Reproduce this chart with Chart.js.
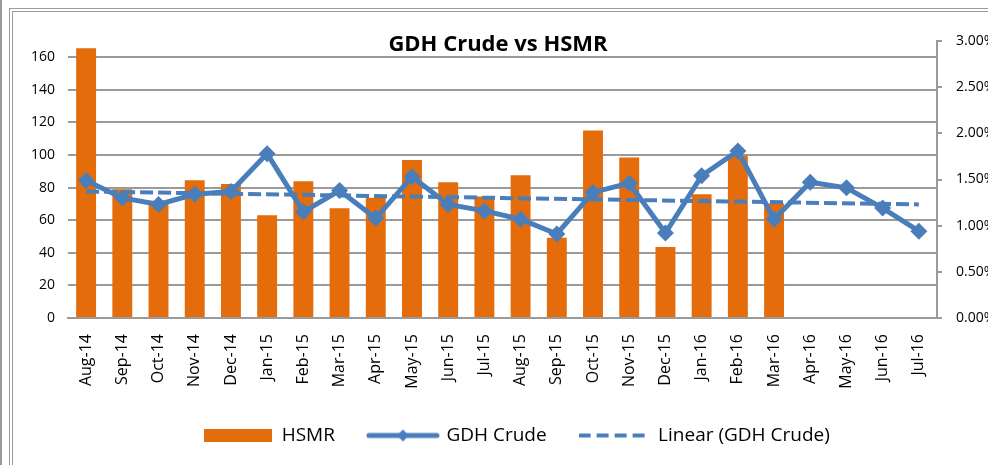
<!DOCTYPE html>
<html>
<head>
<meta charset="utf-8">
<script src="https://cdn.jsdelivr.net/npm/chart.js@4.4.1/dist/chart.umd.min.js"></script>
<style>
  html, body { margin: 0; padding: 0; background: #fff; }
  #wrap { position: relative; width: 988px; height: 465px; overflow: hidden; }
  #chart { position: absolute; left: 0; top: 0; }
  .frame-outer { position: absolute; left: 0; top: 0; width: 2px; height: 465px; background: #9a9a9a; }
  .frame { position: absolute; left: 9px; top: 8px; right: -10px; bottom: -10px;
           border-left: 4px double #9a9a9a; border-top: 4px double #9a9a9a; }
</style>
</head>
<body>
<div id="wrap">
  <div class="frame-outer"></div>
  <div class="frame"></div>
  <canvas id="chart" width="988" height="465"></canvas>
</div>
<script>
// Chart data
const months = ["Aug-14", "Sep-14", "Oct-14", "Nov-14", "Dec-14", "Jan-15", "Feb-15", "Mar-15",
                "Apr-15", "May-15", "Jun-15", "Jul-15", "Aug-15", "Sep-15", "Oct-15", "Nov-15",
                "Dec-15", "Jan-16", "Feb-16", "Mar-16", "Apr-16", "May-16", "Jun-16", "Jul-16"];

const hsmr = [165.5, 79, 72, 84.5, 82.3, 63, 84, 67.3, 73.8, 96.9, 83.3, 74.5,
              87.6, 49.2, 115.1, 98.5, 43.5, 75.9, 99.5, 70.2, null, null, null, null];

// GDH crude rate, in percent
const gdhCrude = [1.49, 1.30, 1.23, 1.34, 1.37, 1.78, 1.15, 1.38, 1.08, 1.53, 1.23, 1.16,
                  1.07, 0.91, 1.36, 1.46, 0.92, 1.54, 1.81, 1.07, 1.47, 1.41, 1.19, 0.94];

// linear trendline end points (first and last month)
const gdhTrend = [1.37, null, null, null, null, null, null, null, null, null, null, null,
                  null, null, null, null, null, null, null, null, null, null, null, 1.23];

const leftTicks = [0, 20, 40, 60, 80, 100, 120, 140, 160];
const rightTicks = [0, 0.5, 1, 1.5, 2, 2.5, 3];

const ORANGE = "#E46C0A";
const BLUE = "#4A7EBB";
const GRID = "#9a9a9a";
const FONT = "'Open Sans', 'Liberation Sans', sans-serif";

// small pictures for the legend keys
function makeKey(kind) {
    const c = document.createElement("canvas");
    const g = c.getContext("2d");
    if (kind === "bar") {
        c.width = 68; c.height = 13;
        g.fillStyle = ORANGE;
        g.fillRect(0, 0, 68, 13);
    } else if (kind === "line") {
        c.width = 74; c.height = 14;
        g.strokeStyle = BLUE;
        g.lineWidth = 5;
        g.lineCap = "round";
        g.beginPath(); g.moveTo(3, 7); g.lineTo(71, 7); g.stroke();
        g.fillStyle = BLUE;
        g.beginPath(); g.moveTo(37, 1); g.lineTo(43, 7); g.lineTo(37, 13); g.lineTo(31, 7); g.closePath(); g.fill();
    } else {
        c.width = 72; c.height = 6;
        g.strokeStyle = BLUE;
        g.lineWidth = 4;
        g.setLineDash([12, 6]);
        g.beginPath(); g.moveTo(0, 3); g.lineTo(72, 3); g.stroke();
    }
    return c;
}
const keys = [makeKey("bar"), makeKey("line"), makeKey("dash")];

// title sits over the plot area like the Excel original
const titlePlugin = {
    id: "overTitle",
    afterLayout(chart) {
        // legend in the original is centred a bit right of the page centre
        chart.legend.left += 46;
    },
    afterDraw(chart) {
        const ctx = chart.ctx;
        ctx.save();
        ctx.font = "bold 22px " + FONT;
        ctx.fillStyle = "#000";
        ctx.textAlign = "center";
        ctx.textBaseline = "middle";
        ctx.fillText("GDH Crude vs HSMR", 498, 45);
        ctx.restore();
    }
};

new Chart(document.getElementById("chart"), {
    type: "bar",
    data: {
        labels: months,
        datasets: [
            {
                label: "HSMR",
                data: hsmr,
                backgroundColor: ORANGE,
                yAxisID: "y",
                order: 3,
                barPercentage: 0.55,
                categoryPercentage: 1
            },
            {
                type: "line",
                label: "GDH Crude",
                data: gdhCrude,
                yAxisID: "y1",
                borderColor: BLUE,
                backgroundColor: BLUE,
                borderWidth: 5,
                pointStyle: "rectRot",
                pointRadius: 8.5,
                pointBorderWidth: 0,
                tension: 0,
                order: 1
            },
            {
                type: "line",
                label: "Linear (GDH Crude)",
                data: gdhTrend,
                yAxisID: "y1",
                borderColor: BLUE,
                borderWidth: 4,
                borderDash: [13, 5],
                pointRadius: 0,
                spanGaps: true,
                order: 2
            }
        ]
    },
    options: {
        responsive: false,
        animation: false,
        layout: { padding: { top: 41, left: 0, right: 0, bottom: 10 } },
        plugins: {
            tooltip: { enabled: false },
            legend: {
                position: "bottom",
                labels: {
                    usePointStyle: true,
                    pointStyleWidth: 68,
                    padding: 34,
                    color: "#000",
                    font: { family: FONT, size: 19 },
                    generateLabels: chart => chart.data.datasets.map((ds, i) => ({
                        text: ds.label,
                        pointStyle: keys[i],
                        fillStyle: BLUE,
                        strokeStyle: BLUE,
                        lineWidth: 0,
                        hidden: false,
                        datasetIndex: i
                    }))
                }
            }
        },
        scales: {
            x: {
                grid: { display: false },
                border: { display: true, color: GRID, width: 2 },
                ticks: {
                    minRotation: 90,
                    maxRotation: 90,
                    autoSkip: false,
                    padding: 8,
                    color: "#000",
                    font: { family: FONT, size: 16 }
                },
                afterFit: s => { s.height = 74; }
            },
            y: {
                position: "left",
                min: 0,
                max: 170,
                grid: { color: GRID, lineWidth: 2, drawTicks: false },
                border: { display: false },
                ticks: {
                    padding: 13,
                    color: "#000",
                    font: { family: FONT, size: 14 }
                },
                afterBuildTicks: s => { s.ticks = leftTicks.map(v => ({ value: v })); },
                afterFit: s => { s.width = 68; }
            },
            y1: {
                position: "right",
                min: 0,
                max: 3,
                grid: { drawOnChartArea: false, color: GRID, lineWidth: 2, tickLength: 5 },
                border: { display: true, color: GRID, width: 2 },
                ticks: {
                    padding: 14,
                    color: "#000",
                    font: { family: FONT, size: 14 },
                    callback: v => v.toFixed(2) + "%"
                },
                afterBuildTicks: s => { s.ticks = rightTicks.map(v => ({ value: v })); },
                afterFit: s => { s.width = 51; }
            }
        }
    },
    plugins: [titlePlugin]
});
</script>
</body>
</html>
